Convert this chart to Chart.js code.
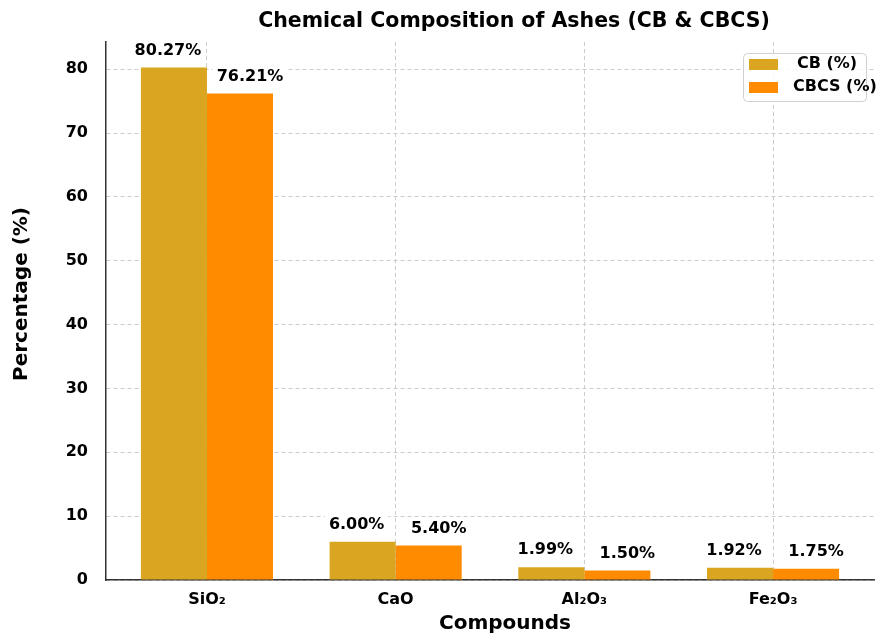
<!DOCTYPE html>
<html>
<head>
<meta charset="utf-8">
<script src="https://cdn.jsdelivr.net/npm/chart.js@4.4.0/dist/chart.umd.min.js"></script>
<style>
  body { margin: 0; background: #fff; }
  #wrap { width: 892px; height: 635px; }
</style>
</head>
<body>
<div id="wrap"><canvas id="ashChart" width="892" height="635"></canvas></div>
<script>
const compounds = ["SiO\u2082", "CaO", "Al\u2082O\u2083", "Fe\u2082O\u2083"];
const cbValues = [80.27, 6.00, 1.99, 1.92];
const cbcsValues = [76.21, 5.40, 1.50, 1.75];
const yTicks = [0, 10, 20, 30, 40, 50, 60, 70, 80];

const FONT = "'DejaVu Sans', sans-serif";
const CB_COLOR = "#DAA520";
const CBCS_COLOR = "#FF8C00";
const LABEL_NUDGE = [-6, 10]; // push neighbouring value labels apart a bit

// title, axis titles, legend and value labels
const decorPlugin = {
    id: "decor",
    afterDatasetsDraw(chart) {
        const ctx = chart.ctx;
        ctx.save();
        ctx.fillStyle = "#000";
        ctx.textAlign = "center";
        ctx.textBaseline = "middle";

        // bar value labels
        ctx.font = "bold 16px " + FONT;
        chart.data.datasets.forEach((ds, di) => {
            const meta = chart.getDatasetMeta(di);
            meta.data.forEach((bar, i) => {
                const txt = ds.data[i].y.toFixed(2) + "%";
                const w = ctx.measureText(txt).width;
                const cx = bar.x + LABEL_NUDGE[di];
                const cy = bar.y - 17;
                ctx.fillStyle = "#fff";
                ctx.fillRect(cx - w / 2 - 4, cy - 11, w + 8, 21);
                ctx.fillStyle = "#000";
                ctx.fillText(txt, cx, cy);
            });
        });

        // title
        ctx.font = "bold 20.5px " + FONT;
        ctx.fillText("Chemical Composition of Ashes (CB & CBCS)", 514, 22);

        // x title
        ctx.font = "bold 20px " + FONT;
        ctx.fillText("Compounds", 505, 624);

        // y title
        ctx.save();
        ctx.translate(22, 294);
        ctx.rotate(-Math.PI / 2);
        ctx.fillText("Percentage (%)", 0, 0);
        ctx.restore();

        // legend
        const lx = 743, ly = 53, lw = 123, lh = 48;
        ctx.fillStyle = "rgba(255,255,255,0.85)";
        ctx.strokeStyle = "#d0d0d0";
        ctx.lineWidth = 1;
        ctx.beginPath();
        ctx.roundRect(lx + 0.5, ly + 0.5, lw, lh, 4);
        ctx.fill();
        ctx.stroke();
        ctx.font = "bold 16px " + FONT;
        ctx.textAlign = "left";
        chart.data.datasets.forEach((ds, di) => {
            const yy = ly + 11 + di * 23;
            ctx.fillStyle = ds.backgroundColor;
            ctx.fillRect(lx + 6, yy - 5, 29, 11);
            ctx.fillStyle = "#000";
            ctx.fillText(ds.label, di === 0 ? 797 : 793, yy);
        });
        ctx.restore();
    }
};

const ctx = document.getElementById("ashChart").getContext("2d");

new Chart(ctx, {
    type: "bar",
    data: {
        datasets: [{
            label: "CB (%)",
            data: compounds.map((c, i) => ({ x: i, y: cbValues[i] })),
            backgroundColor: CB_COLOR,
            borderWidth: 0
        }, {
            label: "CBCS (%)",
            data: compounds.map((c, i) => ({ x: i, y: cbcsValues[i] })),
            backgroundColor: CBCS_COLOR,
            borderWidth: 0
        }]
    },
    options: {
        responsive: false,
        animation: false,
        layout: { padding: { top: 42, right: 18, left: 0, bottom: 0 } },
        datasets: { bar: { categoryPercentage: 0.7, barPercentage: 1.0 } },
        plugins: {
            legend: { display: false },
            title: { display: false },
            tooltip: { enabled: false }
        },
        scales: {
            x: {
                type: "linear",
                min: -0.535,
                max: 3.535,
                offset: false,
                afterFit(scale) { scale.height = 55; },
                afterBuildTicks(scale) {
                    scale.ticks = compounds.map((c, i) => ({ value: i }));
                },
                ticks: {
                    callback: (v) => compounds[v],
                    color: "#000",
                    font: { family: FONT, size: 16, weight: "bold" },
                    padding: 10,
                    maxRotation: 0
                },
                grid: { color: "#cccccc", lineWidth: 1, drawTicks: false, offset: false },
                border: { color: "#333", width: 1.5, dash: [4, 3] }
            },
            y: {
                min: 0,
                max: 84.28,
                afterFit(scale) { scale.width = 106; },
                afterBuildTicks(scale) {
                    scale.ticks = yTicks.map((v) => ({ value: v }));
                },
                ticks: {
                    color: "#000",
                    font: { family: FONT, size: 16, weight: "bold" },
                    padding: 18
                },
                grid: { color: "#cccccc", lineWidth: 1, drawTicks: false },
                border: { color: "#333", width: 1.5, dash: [4, 3] }
            }
        }
    },
    plugins: [decorPlugin]
});
</script>
</body>
</html>
